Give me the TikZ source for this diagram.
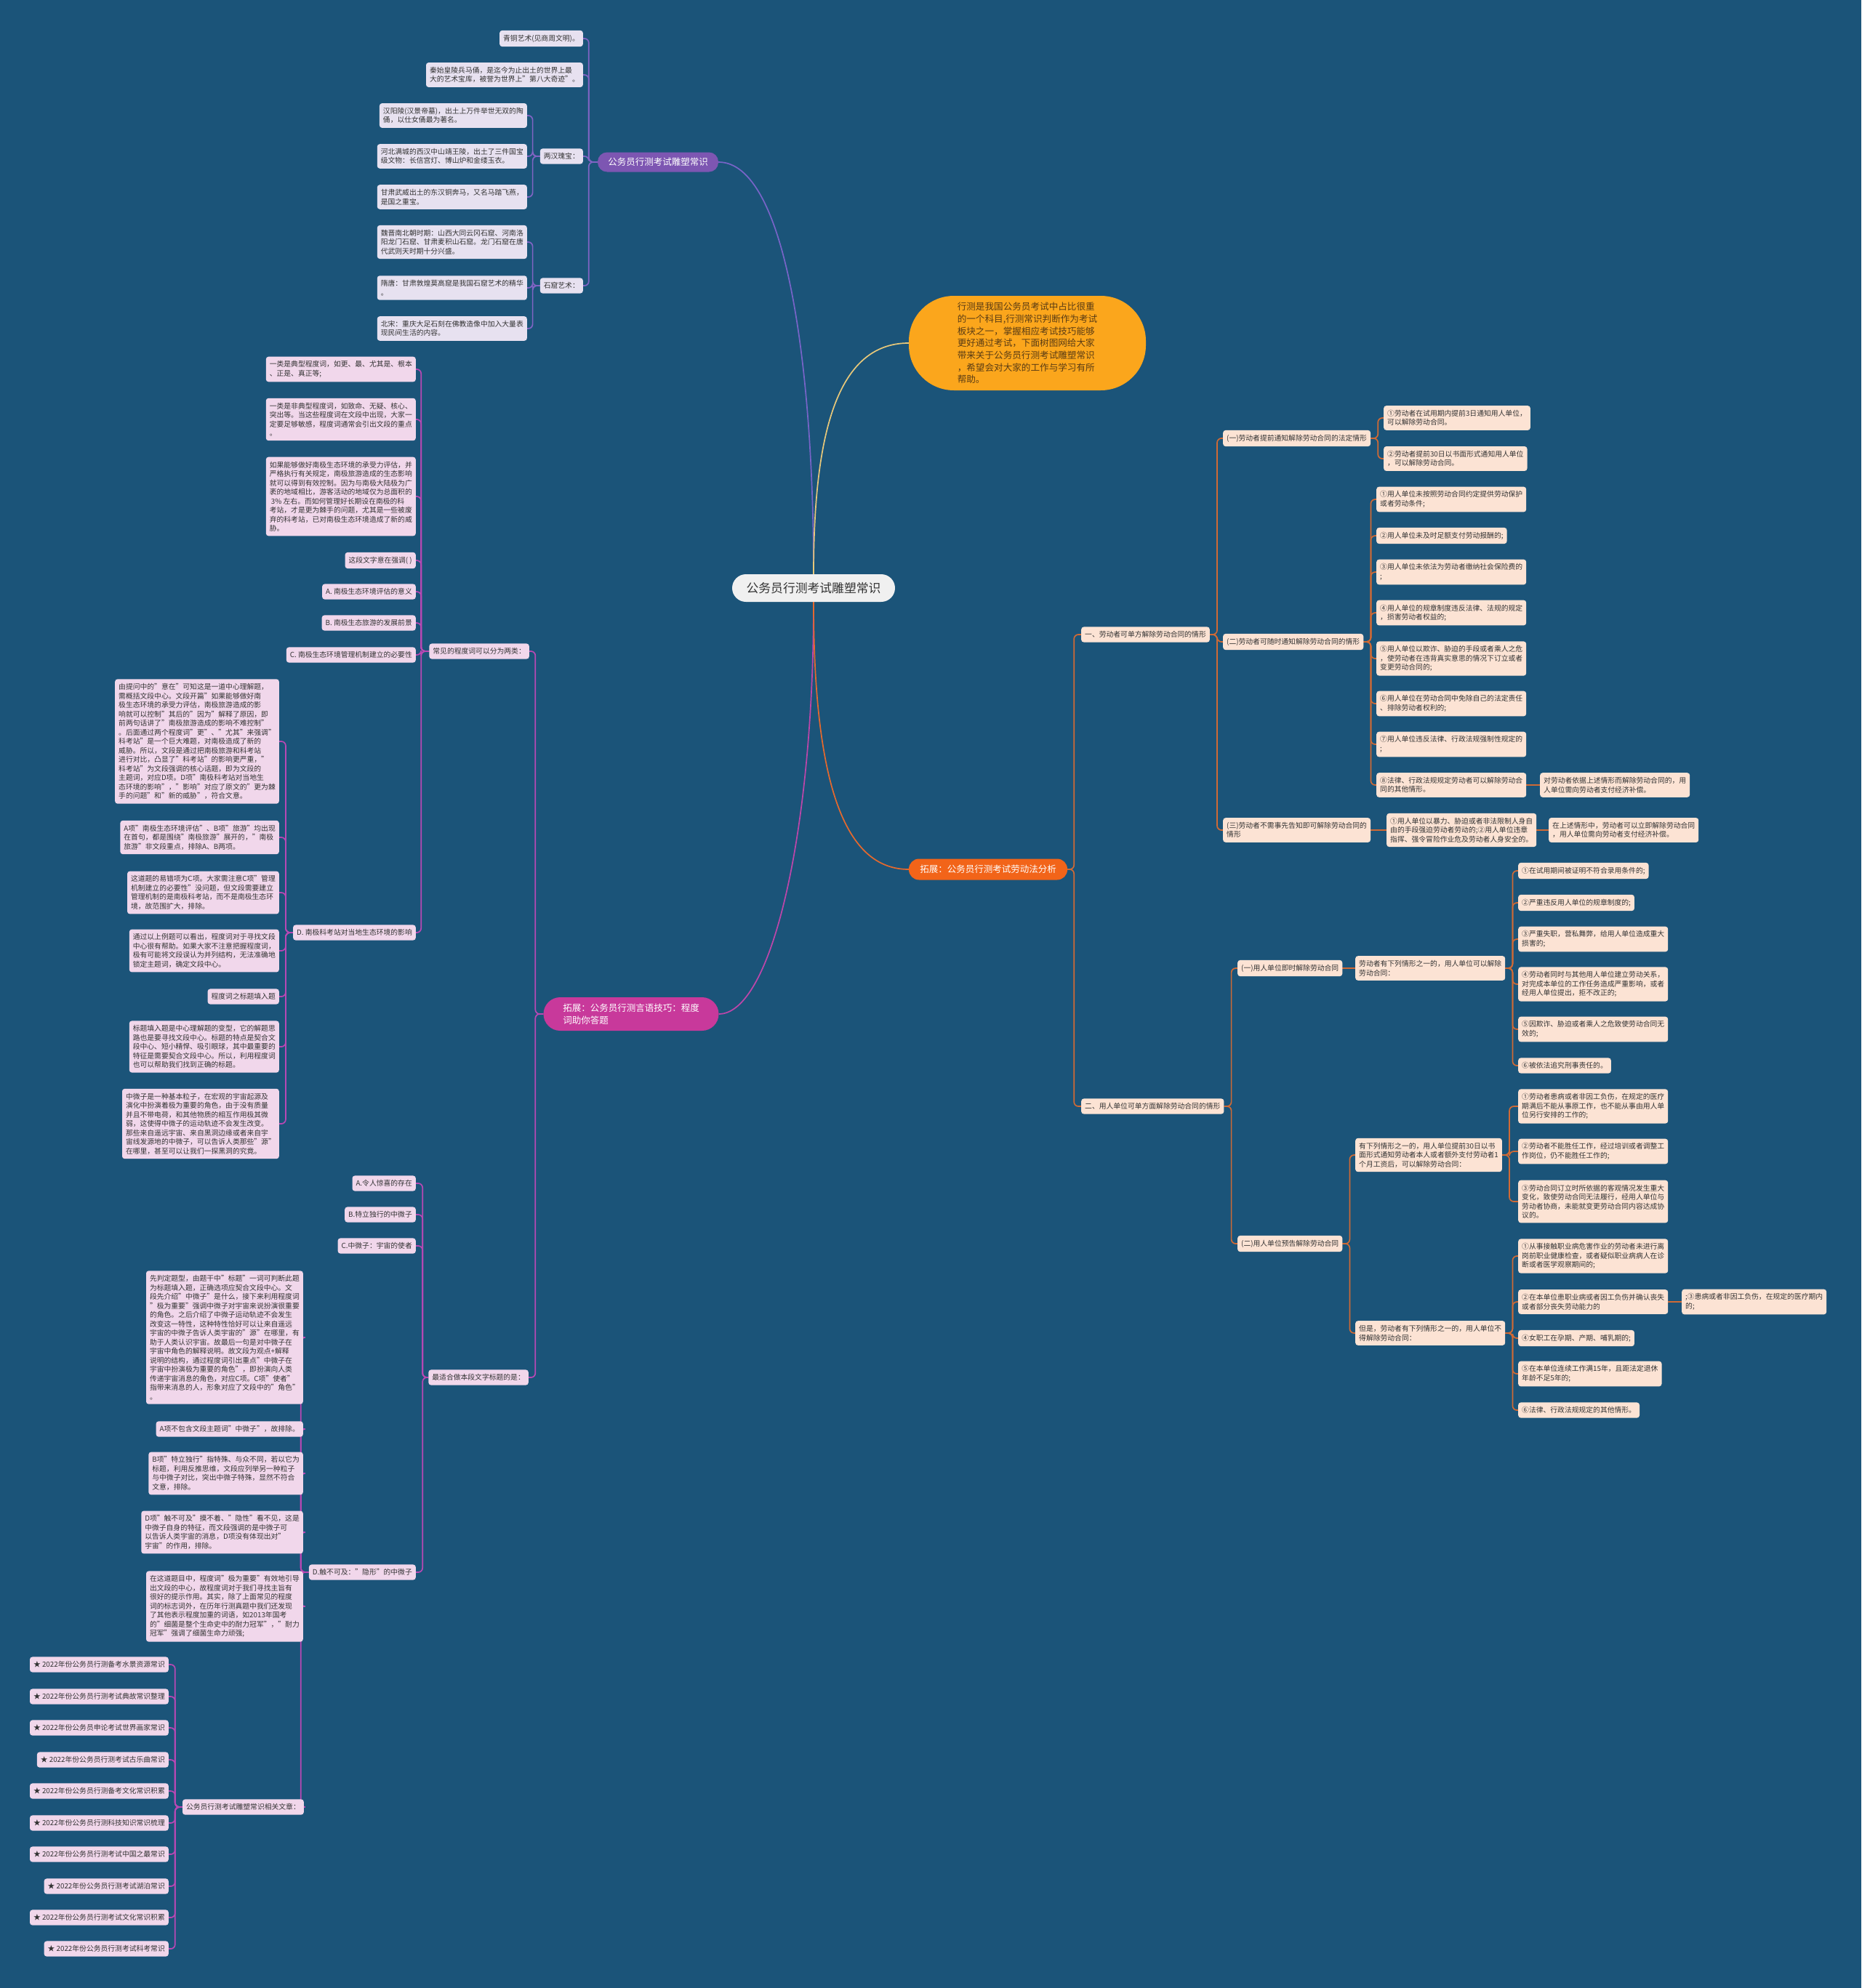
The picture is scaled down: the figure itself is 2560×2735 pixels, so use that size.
\documentclass[tikz,border=0pt]{standalone}
\usepackage{fontspec}
\setmainfont{Noto Sans CJK SC}
\usetikzlibrary{calc}
\definecolor{bg}{RGB}{27,84,121}
\definecolor{txt}{RGB}{51,51,51}
\definecolor{pfill}{RGB}{231,225,240}
\definecolor{pline}{RGB}{128,100,196}
\definecolor{pmain}{RGB}{125,86,178}
\definecolor{ofill}{RGB}{252,227,212}
\definecolor{oline}{RGB}{208,106,53}
\definecolor{omain}{RGB}{242,100,25}
\definecolor{mfill}{RGB}{241,215,235}
\definecolor{mline}{RGB}{184,72,180}
\definecolor{mmain}{RGB}{200,57,155}
\definecolor{bubble}{RGB}{251,166,28}
\definecolor{bubtxt}{RGB}{90,60,20}
\definecolor{rootfill}{RGB}{240,240,240}
\definecolor{lbub}{RGB}{232,200,122}
\definecolor{lpur}{RGB}{120,100,200}
\definecolor{lmag}{RGB}{190,70,170}
\definecolor{lora}{RGB}{230,105,45}
\newcommand\smf{\fontsize{9.8}{12.5}\selectfont}
\newcommand\mdf{\fontsize{12.5}{17}\selectfont}
\pgfdeclarelayer{bgl}
\pgfdeclarelayer{lines}
\pgfsetlayers{bgl,lines,main}
\tikzset{
  box/.style={rounded corners=3.5pt, inner xsep=5pt, inner ysep=6pt, align=left, text=txt, font=\smf},
  pb/.style={box, fill=pfill},
  ob/.style={box, fill=ofill},
  mb/.style={box, fill=mfill},
  ae/.style={anchor=east},
  aw/.style={anchor=west},
  lk/.style={to path={-- ++(-#1,0) |- (\tikztotarget)}},
  rk/.style={to path={-- ++(#1,0) |- (\tikztotarget)}},
  pc/.style={draw=pline, line width=1.7pt, rounded corners=6pt},
  oc/.style={draw=oline, line width=1.7pt, rounded corners=6pt},
  mc/.style={draw=mline, line width=1.7pt, rounded corners=6pt},
  pill/.style={text=white, font=\mdf, inner xsep=12pt, inner ysep=6pt, align=left},
}
\begin{document}
\begin{tikzpicture}[x=1pt,y=-1pt]
\begin{pgfonlayer}{bgl}
\fill[bg] (0,0) rectangle (2560,2735);
\end{pgfonlayer}
\useasboundingbox (0,0) rectangle (2560,2735);

% root and main branches
\node[fill=rootfill, rounded corners=19pt, minimum width=224pt, minimum height=38pt, text=txt, font=\fontsize{16.8}{20}\selectfont] (root) at (1119,809) {公务员行测考试雕塑常识};
\node[fill=bubble, rounded corners=62pt, minimum width=326pt, minimum height=130pt, text=bubtxt, align=left, font=\fontsize{12.6}{16.7}\selectfont] (B) at (1413,472) {行测是我国公务员考试中占比很重\\的一个科目,行测常识判断作为考试\\板块之一，掌握相应考试技巧能够\\更好通过考试，下面树图网给大家\\带来关于公务员行测考试雕塑常识\\，希望会对大家的工作与学习有所\\帮助。};
\node[pill, fill=pmain, rounded corners=13pt, minimum width=166pt, minimum height=27pt] (P) at (905,223) {公务员行测考试雕塑常识};
\node[pill, fill=omain, rounded corners=14pt, minimum width=218pt, minimum height=29pt] (O) at (1359,1196) {拓展：公务员行测考试劳动法分析};
\node[pill, fill=mmain, rounded corners=23pt, minimum width=241pt, minimum height=46pt, inner xsep=24pt] (M) at (868,1395) {拓展：公务员行测言语技巧：程度\\词助你答题};

% purple subtree
\node[pb, ae] (P1) at (802,53) {青铜艺术(见商周文明)。};
\node[pb, ae] (P2) at (802,103) {秦始皇陵兵马俑，是迄今为止出土的世界上最\\大的艺术宝库，被誉为世界上"第八大奇迹"。};
\node[pb, ae] (P3) at (802,215) {两汉瑰宝：};
\node[pb, ae] (P4) at (802,393) {石窟艺术：};
\node[pb, ae] (P31) at (725,159) {汉阳陵(汉景帝墓)，出土上万件举世无双的陶\\俑，以仕女俑最为著名。};
\node[pb, ae] (P32) at (725,215) {河北满城的西汉中山靖王陵，出土了三件国宝\\级文物：长信宫灯、博山炉和金缕玉衣。};
\node[pb, ae] (P33) at (725,271) {甘肃武威出土的东汉铜奔马，又名马踏飞燕，\\是国之重宝。};
\node[pb, ae] (P41) at (725,333) {魏晋南北朝时期：山西大同云冈石窟、河南洛\\阳龙门石窟、甘肃麦积山石窟。龙门石窟在唐\\代武则天时期十分兴盛。};
\node[pb, ae] (P42) at (725,396) {隋唐：甘肃敦煌莫高窟是我国石窟艺术的精华\\。};
\node[pb, ae] (P43) at (725,452) {北宋：重庆大足石刻在佛教造像中加入大量表\\现民间生活的内容。};

% magenta subtree
\node[mb, ae] (M1) at (728,896) {常见的程度词可以分为两类：};
\node[mb, ae] (M2) at (727,1895) {最适合做本段文字标题的是：};
\node[mb, ae] (a1) at (572,508) {一类是典型程度词，如更、最、尤其是、根本\\、正是、真正等;};
\node[mb, ae] (a2) at (572,577) {一类是非典型程度词，如致命、无疑、核心、\\突出等。当这些程度词在文段中出现，大家一\\定要足够敏感，程度词通常会引出文段的重点\\。};
\node[mb, ae] (a3) at (572,683) {如果能够做好南极生态环境的承受力评估，并\\严格执行有关规定，南极旅游造成的生态影响\\就可以得到有效控制。因为与南极大陆极为广\\袤的地域相比，游客活动的地域仅为总面积的\\\ 3\% 左右。而如何管理好长期设在南极的科\\考站，才是更为棘手的问题，尤其是一些被废\\弃的科考站，已对南极生态环境造成了新的威\\胁。};
\node[mb, ae] (a4) at (572,771) {这段文字意在强调( )};
\node[mb, ae] (a5) at (572,814) {A. 南极生态环境评估的意义};
\node[mb, ae] (a6) at (572,857) {B. 南极生态旅游的发展前景};
\node[mb, ae] (a7) at (572,901) {C. 南极生态环境管理机制建立的必要性};
\node[mb, ae] (a8) at (572,1283) {D. 南极科考站对当地生态环境的影响};
\node[mb, ae] (b1) at (384,1020) {由提问中的"意在"可知这是一道中心理解题，\\需概括文段中心。文段开篇"如果能够做好南\\极生态环境的承受力评估，南极旅游造成的影\\响就可以控制"其后的"因为"解释了原因，即\\前两句话讲了"南极旅游造成的影响不难控制"\\。后面通过两个程度词"更"、"尤其"来强调"\\科考站"是一个巨大难题，对南极造成了新的\\威胁。所以，文段是通过把南极旅游和科考站\\进行对比，凸显了"科考站"的影响更严重，"\\科考站"为文段强调的核心话题，即为文段的\\主题词，对应D项。D项"南极科考站对当地生\\态环境的影响"，"影响"对应了原文的"更为棘\\手的问题"和"新的威胁"，符合文意。};
\node[mb, ae] (b2) at (384,1152) {A项"南极生态环境评估"、B项"旅游"均出现\\在首句，都是围绕"南极旅游"展开的，"南极\\旅游"非文段重点，排除A、B两项。};
\node[mb, ae] (b3) at (384,1228) {这道题的易错项为C项。大家需注意C项"管理\\机制建立的必要性"没问题，但文段需要建立\\管理机制的是南极科考站，而不是南极生态环\\境，故范围扩大，排除。};
\node[mb, ae] (b4) at (384,1308) {通过以上例题可以看出，程度词对于寻找文段\\中心很有帮助。如果大家不注意把握程度词，\\极有可能将文段误认为并列结构，无法准确地\\锁定主题词，确定文段中心。};
\node[mb, ae] (b5) at (384,1371) {程度词之标题填入题};
\node[mb, ae] (b6) at (384,1440) {标题填入题是中心理解题的变型，它的解题思\\路也是要寻找文段中心。标题的特点是契合文\\段中心、短小精悍、吸引眼球，其中最重要的\\特征是需要契合文段中心。所以，利用程度词\\也可以帮助我们找到正确的标题。};
\node[mb, ae] (b7) at (384,1546) {中微子是一种基本粒子，在宏观的宇宙起源及\\演化中扮演着极为重要的角色，由于没有质量\\并且不带电荷，和其他物质的相互作用极其微\\弱，这使得中微子的运动轨迹不会发生改变。\\那些来自遥远宇宙、来自黑洞边缘或者来自宇\\宙线发源地的中微子，可以告诉人类那些"源"\\在哪里，甚至可以让我们一探黑洞的究竟。};
\node[mb, ae] (c1) at (572,1628) {A.令人惊喜的存在};
\node[mb, ae] (c2) at (572,1671) {B.特立独行的中微子};
\node[mb, ae] (c3) at (572,1714) {C.中微子：宇宙的使者};
\node[mb, ae] (c4) at (572,2163) {D.触不可及："隐形"的中微子};
\node[mb, ae] (d1) at (417,1840) {先判定题型，由题干中"标题"一词可判断此题\\为标题填入题，正确选项应契合文段中心。文\\段先介绍"中微子"是什么，接下来利用程度词\\"极为重要"强调中微子对宇宙来说扮演很重要\\的角色。之后介绍了中微子运动轨迹不会发生\\改变这一特性，这种特性恰好可以让来自遥远\\宇宙的中微子告诉人类宇宙的"源"在哪里，有\\助于人类认识宇宙。故最后一句是对中微子在\\宇宙中角色的解释说明。故文段为观点+解释\\说明的结构，通过程度词引出重点"中微子在\\宇宙中扮演极为重要的角色"，即扮演向人类\\传递宇宙消息的角色，对应C项。C项"使者"\\指带来消息的人，形象对应了文段中的"角色"\\。};
\node[mb, ae] (d2) at (417,1966) {A项不包含文段主题词"中微子"，故排除。};
\node[mb, ae] (d3) at (417,2027) {B项"特立独行"指特殊、与众不同，若以它为\\标题，利用反推思维，文段应列举另一种粒子\\与中微子对比，突出中微子特殊，显然不符合\\文意，排除。};
\node[mb, ae] (d4) at (417,2108) {D项"触不可及"摸不着、"隐性"看不见，这是\\中微子自身的特征，而文段强调的是中微子可\\以告诉人类宇宙的消息，D项没有体现出对"\\宇宙"的作用，排除。};
\node[mb, ae] (d5) at (417,2210) {在这道题目中，程度词"极为重要"有效地引导\\出文段的中心，故程度词对于我们寻找主旨有\\很好的提示作用。其实，除了上面常见的程度\\词的标志词外，在历年行测真题中我们还发现\\了其他表示程度加重的词语，如2013年国考\\的"细菌是整个生命史中的耐力冠军"，"耐力\\冠军"强调了细菌生命力顽强;};
\node[mb, ae] (d6) at (418,2486) {公务员行测考试雕塑常识相关文章：};
\node[mb, ae] (e1) at (232,2290) {★ 2022年份公务员行测备考水景资源常识};
\node[mb, ae] (e2) at (232,2334) {★ 2022年份公务员行测考试典故常识整理};
\node[mb, ae] (e3) at (232,2377) {★ 2022年份公务员申论考试世界画家常识};
\node[mb, ae] (e4) at (232,2421) {★ 2022年份公务员行测考试古乐曲常识};
\node[mb, ae] (e5) at (232,2464) {★ 2022年份公务员行测备考文化常识积累};
\node[mb, ae] (e6) at (232,2508) {★ 2022年份公务员行测科技知识常识梳理};
\node[mb, ae] (e7) at (232,2551) {★ 2022年份公务员行测考试中国之最常识};
\node[mb, ae] (e8) at (232,2595) {★ 2022年份公务员行测考试湖泊常识};
\node[mb, ae] (e9) at (232,2638) {★ 2022年份公务员行测考试文化常识积累};
\node[mb, ae] (e10) at (232,2681) {★ 2022年份公务员行测考试科考常识};

% orange subtree
\node[ob, aw] (R1) at (1487,873) {一、劳动者可单方解除劳动合同的情形};
\node[ob, aw] (R2) at (1487,1522) {二、用人单位可单方面解除劳动合同的情形};
\node[ob, aw] (R11) at (1682,603) {(一)劳动者提前通知解除劳动合同的法定情形};
\node[ob, aw] (R12) at (1682,883) {(二)劳动者可随时通知解除劳动合同的情形};
\node[ob, aw] (R13) at (1682,1142) {(三)劳动者不需事先告知即可解除劳动合同的\\情形};
\node[ob, aw] (R111) at (1903,575) {①劳动者在试用期内提前3日通知用人单位，\\可以解除劳动合同。};
\node[ob, aw] (R112) at (1903,631) {②劳动者提前30日以书面形式通知用人单位\\，可以解除劳动合同。};
\node[ob, aw] (R121) at (1893,687) {①用人单位未按照劳动合同约定提供劳动保护\\或者劳动条件;};
\node[ob, aw] (R122) at (1893,737) {②用人单位未及时足额支付劳动报酬的;};
\node[ob, aw] (R123) at (1893,787) {③用人单位未依法为劳动者缴纳社会保险费的\\;};
\node[ob, aw] (R124) at (1893,843) {④用人单位的规章制度违反法律、法规的规定\\，损害劳动者权益的;};
\node[ob, aw] (R125) at (1893,906) {⑤用人单位以欺诈、胁迫的手段或者乘人之危\\，使劳动者在违背真实意思的情况下订立或者\\变更劳动合同的;};
\node[ob, aw] (R126) at (1893,968) {⑥用人单位在劳动合同中免除自己的法定责任\\、排除劳动者权利的;};
\node[ob, aw] (R127) at (1893,1024) {⑦用人单位违反法律、行政法规强制性规定的\\;};
\node[ob, aw] (R128) at (1893,1080) {⑧法律、行政法规规定劳动者可以解除劳动合\\同的其他情形。};
\node[ob, aw] (R1281) at (2118,1080) {对劳动者依据上述情形而解除劳动合同的，用\\人单位需向劳动者支付经济补偿。};
\node[ob, aw] (R131) at (1907,1142) {①用人单位以暴力、胁迫或者非法限制人身自\\由的手段强迫劳动者劳动的;②用人单位违章\\指挥、强令冒险作业危及劳动者人身安全的。};
\node[ob, aw] (R1311) at (2130,1142) {在上述情形中，劳动者可以立即解除劳动合同\\，用人单位需向劳动者支付经济补偿。};
\node[ob, aw] (R21) at (1702,1332) {(一)用人单位即时解除劳动合同};
\node[ob, aw] (R22) at (1702,1711) {(二)用人单位预告解除劳动合同};
\node[ob, aw] (R211) at (1864,1332) {劳动者有下列情形之一的，用人单位可以解除\\劳动合同：};
\node[ob, aw] (S1) at (2088,1198) {①在试用期间被证明不符合录用条件的;};
\node[ob, aw] (S2) at (2088,1242) {②严重违反用人单位的规章制度的;};
\node[ob, aw] (S3) at (2088,1292) {③严重失职，营私舞弊，给用人单位造成重大\\损害的;};
\node[ob, aw] (S4) at (2088,1354) {④劳动者同时与其他用人单位建立劳动关系，\\对完成本单位的工作任务造成严重影响，或者\\经用人单位提出，拒不改正的;};
\node[ob, aw] (S5) at (2088,1416) {⑤因欺诈、胁迫或者乘人之危致使劳动合同无\\效的;};
\node[ob, aw] (S6) at (2088,1466) {⑥被依法追究刑事责任的。};
\node[ob, aw] (R221) at (1864,1589) {有下列情形之一的，用人单位提前30日以书\\面形式通知劳动者本人或者额外支付劳动者1\\个月工资后，可以解除劳动合同：};
\node[ob, aw] (R222) at (1864,1834) {但是，劳动者有下列情形之一的，用人单位不\\得解除劳动合同：};
\node[ob, aw] (T1) at (2088,1522) {①劳动者患病或者非因工负伤，在规定的医疗\\期满后不能从事原工作，也不能从事由用人单\\位另行安排的工作的;};
\node[ob, aw] (T2) at (2088,1584) {②劳动者不能胜任工作，经过培训或者调整工\\作岗位，仍不能胜任工作的;};
\node[ob, aw] (T3) at (2088,1653) {③劳动合同订立时所依据的客观情况发生重大\\变化，致使劳动合同无法履行，经用人单位与\\劳动者协商，未能就变更劳动合同内容达成协\\议的。};
\node[ob, aw] (U1) at (2088,1728) {①从事接触职业病危害作业的劳动者未进行离\\岗前职业健康检查，或者疑似职业病病人在诊\\断或者医学观察期间的;};
\node[ob, aw] (U2) at (2088,1791) {②在本单位患职业病或者因工负伤并确认丧失\\或者部分丧失劳动能力的};
\node[ob, aw] (U21) at (2313,1791) {;③患病或者非因工负伤，在规定的医疗期内\\的;};
\node[ob, aw] (U3) at (2088,1841) {④女职工在孕期、产期、哺乳期的;};
\node[ob, aw] (U4) at (2088,1890) {⑤在本单位连续工作满15年，且距法定退休\\年龄不足5年的;};
\node[ob, aw] (U5) at (2088,1940) {⑥法律、行政法规规定的其他情形。};

\begin{pgfonlayer}{lines}
% root curves
\draw[draw=lpur, line width=1.7pt] (root.north) .. controls (1119,500) and (1080,223) .. (P.east);
\draw[draw=lbub, line width=1.7pt] (root.north) .. controls (1119,600) and (1150,472) .. (B.west);
\draw[draw=lmag, line width=1.7pt] (root.south) .. controls (1119,1150) and (1060,1395) .. (M.east);
\draw[draw=lora, line width=1.7pt] (root.south) .. controls (1119,1100) and (1170,1196) .. (O.west);
% purple
\foreach \c in {P1,P2,P3,P4} \draw[pc] (P.west) to[lk=12] (\c.east);
\foreach \c in {P31,P32,P33} \draw[pc] (P3.west) to[lk=10] (\c.east);
\foreach \c in {P41,P42,P43} \draw[pc] (P4.west) to[lk=10] (\c.east);
% magenta
\foreach \c in {M1,M2} \draw[mc] (M.west) to[lk=11] (\c.east);
\foreach \c in {a1,a2,a3,a4,a5,a6,a7,a8} \draw[mc] (M1.west) to[lk=11] (\c.east);
\foreach \c in {b1,b2,b3,b4,b5,b6,b7} \draw[mc] (a8.west) to[lk=10] (\c.east);
\foreach \c in {c1,c2,c3,c4} \draw[mc] (M2.west) to[lk=8] (\c.east);
\foreach \c in {d1,d2,d3,d4,d5,d6} \draw[mc] (c4.west) to[lk=11] (\c.east);
\foreach \c in {e1,e2,e3,e4,e5,e6,e7,e8,e9,e10} \draw[mc] (d6.west) to[lk=10] (\c.east);
% orange
\foreach \c in {R1,R2} \draw[oc] (O.east) to[rk=9] (\c.west);
\foreach \c in {R11,R12,R13} \draw[oc] (R1.east) to[rk=10] (\c.west);
\foreach \c in {R111,R112} \draw[oc] (R11.east) to[rk=10] (\c.west);
\foreach \c in {R121,R122,R123,R124,R125,R126,R127,R128} \draw[oc] (R12.east) to[rk=10] (\c.west);
\draw[oc] (R128.east) -- (R1281.west);
\draw[oc] (R13.east) -- (R131.west);
\draw[oc] (R131.east) -- (R1311.west);
\foreach \c in {R21,R22} \draw[oc] (R2.east) to[rk=10] (\c.west);
\draw[oc] (R21.east) -- (R211.west);
\foreach \c in {S1,S2,S3,S4,S5,S6} \draw[oc] (R211.east) to[rk=10] (\c.west);
\foreach \c in {R221,R222} \draw[oc] (R22.east) to[rk=10] (\c.west);
\foreach \c in {T1,T2,T3} \draw[oc] (R221.east) to[rk=10] (\c.west);
\foreach \c in {U1,U2,U3,U4,U5} \draw[oc] (R222.east) to[rk=10] (\c.west);
\draw[oc] (U2.east) -- (U21.west);
\end{pgfonlayer}
\end{tikzpicture}
\end{document}
